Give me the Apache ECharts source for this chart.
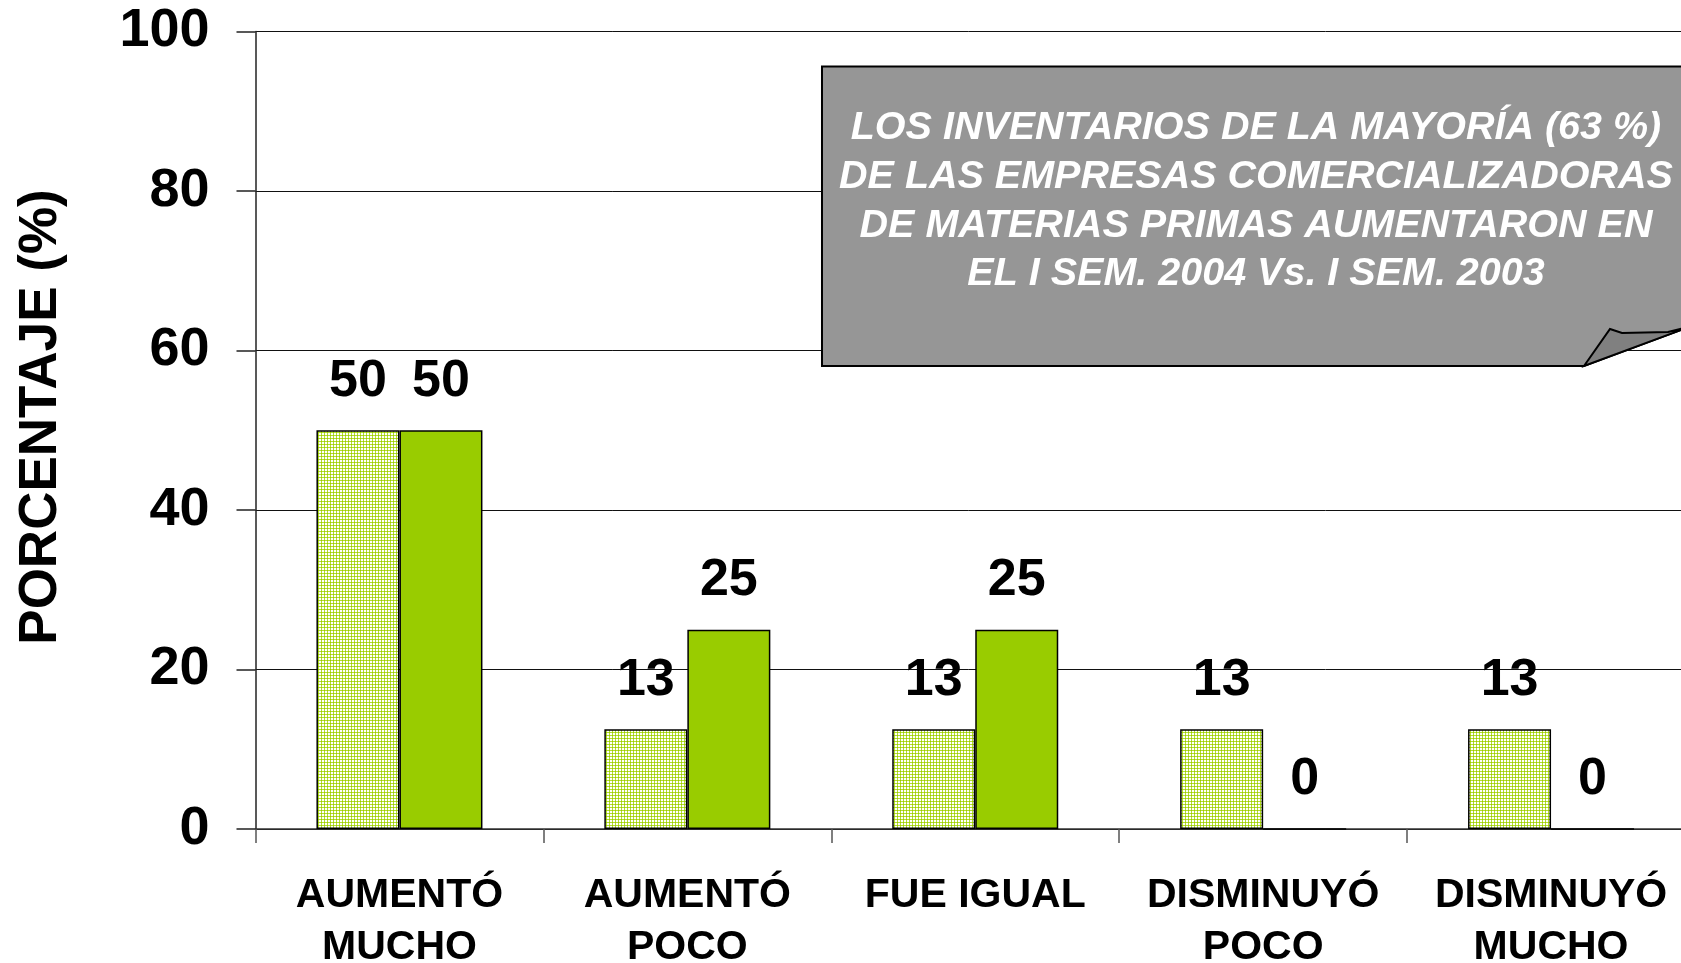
<!DOCTYPE html>
<html>
<head>
<meta charset="utf-8">
<script src="https://cdn.jsdelivr.net/npm/echarts@6/dist/echarts.min.js"></script>
<style>
    html, body { margin: 0; padding: 0; background: #fff; }
    #chart { width: 1681px; height: 963px; }
</style>
</head>
<body>
<div id="chart"></div>
<script>
// datos
var categorias = ['AUMENTÓ\nMUCHO', 'AUMENTÓ\nPOCO', 'FUE IGUAL', 'DISMINUYÓ\nPOCO', 'DISMINUYÓ\nMUCHO'];
var sem2003 = [50, 12.5, 12.5, 12.5, 12.5];
var sem2004 = [50, 25, 25, 0, 0];
var yTicks = [0, 20, 40, 60, 80, 100];
var notaLineas = [
    'LOS INVENTARIOS DE LA MAYORÍA (63 %)',
    'DE LAS EMPRESAS COMERCIALIZADORAS',
    'DE MATERIAS PRIMAS AUMENTARON EN',
    'EL I SEM. 2004 Vs. I SEM. 2003'
];

var fuente = '"Liberation Sans", Arial, sans-serif';

// trama punteada de las barras claras
function crearTrama() {
    var c = document.createElement('canvas');
    c.width = 3;
    c.height = 3;
    var ctx = c.getContext('2d');
    ctx.fillStyle = '#ffffff';
    ctx.fillRect(0, 0, 3, 3);
    ctx.fillStyle = '#b5db33';
    ctx.fillRect(0, 0, 3, 1);
    ctx.fillRect(0, 0, 1, 3);
    ctx.fillStyle = '#99cc00';
    ctx.fillRect(0, 0, 1, 1);
    return c;
}

var etiqueta = {
    show: true,
    position: 'top',
    distance: 23,
    color: '#000',
    fontFamily: fuente,
    fontWeight: 'bold',
    fontSize: 52,
    lineHeight: 52,
    formatter: function(p) { return Math.round(p.value); }
};

var chart = echarts.init(document.getElementById('chart'));
chart.setOption({
    animation: false,
    backgroundColor: '#fff',
    grid: { left: 255.5, top: 31.5, bottom: 134, right: -14, outerBoundsMode: 'none', containLabel: false },
    xAxis: {
        type: 'category',
        data: categorias,
        axisLine: { lineStyle: { color: '#333', width: 1.5 } },
        axisTick: { show: true, length: 14, lineStyle: { color: '#555', width: 1.5 } },
        axisLabel: {
            interval: 0,
            margin: 41,
            color: '#000',
            fontFamily: fuente,
            fontWeight: 'bold',
            fontSize: 41,
            lineHeight: 52
        }
    },
    yAxis: {
        type: 'value',
        min: yTicks[0],
        max: yTicks[yTicks.length - 1],
        interval: 20,
        axisLine: { show: true, lineStyle: { color: '#222', width: 1.5 } },
        axisTick: { show: true, length: 19, lineStyle: { color: '#222', width: 1.5 } },
        splitLine: { show: true, lineStyle: { color: '#111', width: 1 } },
        axisLabel: {
            margin: 46,
            color: '#000',
            fontFamily: fuente,
            fontWeight: 'bold',
            fontSize: 54
        }
    },
    series: [
        {
            name: 'I SEM. 2003',
            type: 'bar',
            data: sem2003,
            barWidth: 83,
            barGap: '0%',
            itemStyle: {
                color: { image: crearTrama(), repeat: 'repeat' },
                borderColor: '#000',
                borderWidth: 1.5
            },
            label: etiqueta
        },
        {
            name: 'I SEM. 2004',
            type: 'bar',
            data: sem2004,
            barWidth: 83,
            barGap: '0%',
            itemStyle: {
                color: '#99cc00',
                borderColor: '#000',
                borderWidth: 1.5
            },
            label: etiqueta
        }
    ],
    graphic: [
        {
            type: 'text',
            z: 50,
            x: 41,
            y: 417,
            rotation: Math.PI / 2,
            style: {
                text: 'PORCENTAJE (%)',
                fill: '#000',
                font: 'bold 53px ' + fuente,
                align: 'center',
                verticalAlign: 'middle'
            }
        },
        {
            type: 'polygon',
            z: 100,
            shape: { points: [[822, 66.5], [1700, 66.5], [1700, 323], [1584, 366], [822, 366]] },
            style: { fill: '#969696', stroke: '#000', lineWidth: 2 }
        },
        {
            type: 'polygon',
            z: 101,
            shape: { points: [[1584, 366], [1610, 329], [1622, 333], [1668, 332], [1690, 326.7]] },
            style: { fill: '#808080', stroke: '#000', lineWidth: 2 }
        },
        {
            type: 'text',
            z: 102,
            x: 1256,
            y: 201.5,
            style: {
                text: notaLineas.join('\n'),
                fill: '#fff',
                font: 'italic bold 39.5px ' + fuente,
                lineHeight: 48.6,
                align: 'center',
                verticalAlign: 'middle'
            }
        }
    ]
});
</script>
</body>
</html>
